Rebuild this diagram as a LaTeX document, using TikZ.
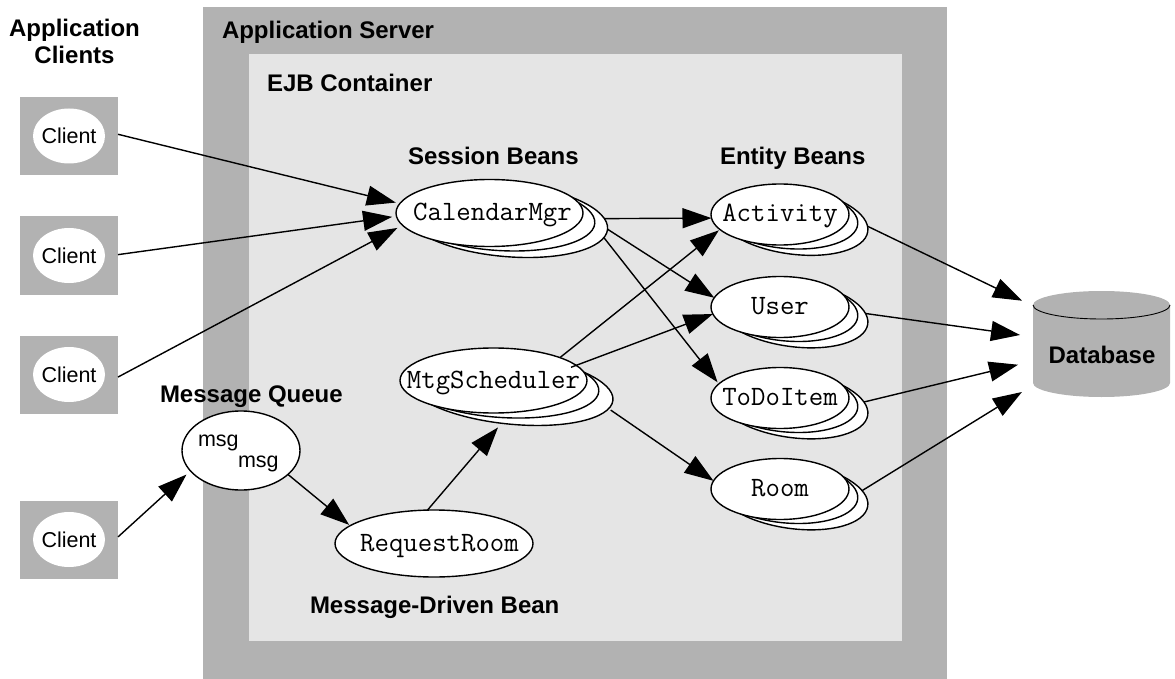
\documentclass[tikz,border=0pt]{standalone}
\usepackage{fontspec}
\setmainfont{Liberation Sans}
\usepackage{xcolor}
\usepackage{tikz}
\usetikzlibrary{shapes.geometric, arrows.meta, positioning, calc}

\definecolor{servergray}{HTML}{B2B2B2}
\definecolor{containergray}{HTML}{E5E5E5}
\newcommand{\ctrtxt}[1]{\makebox[0pt]{#1}}

\tikzset{
    title/.style={font=\fontsize{24}{27}\selectfont\bfseries, inner sep=0pt, outer sep=0pt},
    plain/.style={font=\fontsize{21.5}{24}\selectfont, inner sep=0pt, outer sep=0pt},
    bean/.style={ellipse, draw=black, fill=white, line width=1.4pt, inner sep=0pt, outer sep=0pt,
        font=\fontsize{28}{30}\selectfont\ttfamily, text height=15pt, text depth=0pt},
    beanbig/.style={bean, minimum width=187pt, minimum height=67pt},
    beanbigB/.style={bean, minimum width=192pt, minimum height=67pt, rotate=-3.7},
    beanbigC/.style={bean, minimum width=204pt, minimum height=73pt, rotate=-5.2},
    beansmall/.style={bean, minimum width=138pt, minimum height=61pt},
    beansmallB/.style={bean, minimum width=142pt, minimum height=61pt, rotate=-5},
    beansmallC/.style={bean, minimum width=152pt, minimum height=66pt, rotate=-8},
    clientbox/.style={rectangle, fill=servergray, minimum width=98pt, minimum height=78pt, inner sep=0pt, outer sep=0pt},
    clientoval/.style={ellipse, fill=white, minimum width=72pt, minimum height=55pt, inner sep=0pt, outer sep=0pt,
        font=\fontsize{21.5}{24}\selectfont, text height=15pt, text depth=0pt},
    flow/.style={-{Triangle[length=29pt,width=20pt]}, line width=1.4pt}
}

\begin{document}
\begin{tikzpicture}[x=1pt, y=-1pt]
    \useasboundingbox (0,0) rectangle (1175,679);

    % Server and container areas
    \fill[servergray] (203,7) rectangle (947,679);
    \fill[containergray] (249,54) rectangle (902,641);

    % Titles
    \node[title, align=center] (clientstitle) at (74.5,41.4) {Application\\Clients};
    \node[title, anchor=base west] (servertitle) at (222,39) {Application Server};
    \node[title, anchor=base west] (containertitle) at (267,92) {EJB Container};
    \node[title, anchor=base west] (sessiontitle) at (408,164.5) {Session Beans};
    \node[title, anchor=base west] (entitytitle) at (720,164.5) {Entity Beans};
    \node[title, anchor=base west] (queuetitle) at (160,402) {Message Queue};
    \node[title, anchor=base west] (driventitle) at (310,613) {Message-Driven Bean};

    % Clients
    \node[clientbox] (cbox1) at (69,136) {};
    \node[clientoval] (client1) at (cbox1) {\ctrtxt{Client}};
    \node[clientbox] (cbox2) at (69,255.5) {};
    \node[clientoval] (client2) at (cbox2) {\ctrtxt{Client}};
    \node[clientbox] (cbox3) at (69,374.5) {};
    \node[clientoval] (client3) at (cbox3) {\ctrtxt{Client}};
    \node[clientbox] (cbox4) at (69,539.5) {};
    \node[clientoval] (client4) at (cbox4) {\ctrtxt{Client}};

    % Message queue
    \node[bean, minimum width=118pt, minimum height=79pt] (queue) at (241,450.5) {};
    \node[plain, anchor=base west] (msga) at (198,446) {msg};
    \node[plain, anchor=base west] (msgb) at (238,467) {msg};

    % Session beans
    \node[beanbigC] (calmgrC) at (506,220) {};
    \node[beanbigB] (calmgrB) at (499,217) {};
    \node[beanbig] (calmgr) at (489.5,213) {\ctrtxt{\hspace{6pt}CalendarMgr}};

    % Message-driven beans
    \node[beanbigC, minimum width=207pt, minimum height=69pt, rotate=-0.8] (mtgC) at (510,389.5) {};
    \node[beanbigB, minimum width=194pt, minimum height=65pt] (mtgB) at (502,385) {};
    \node[beanbig, minimum height=65pt] (mtg) at (493.5,380.5) {\ctrtxt{MtgScheduler}};
    \node[bean, minimum width=198pt, minimum height=67pt] (request) at (434,543.5) {\ctrtxt{\hspace{11pt}RequestRoom}};

    % Entity beans
    \node[beansmallC] (activityC) at (792.5,221) {};
    \node[beansmallB] (activityB) at (787,218) {};
    \node[beansmall] (activity) at (780,214.5) {\ctrtxt{Activity}};
    \node[beansmallC] (userC) at (792.5,313.5) {};
    \node[beansmallB] (userB) at (787,310.5) {};
    \node[beansmall] (user) at (780,307) {\ctrtxt{User}};
    \node[beansmallC] (todoC) at (792.5,404.5) {};
    \node[beansmallB] (todoB) at (787,401.5) {};
    \node[beansmall] (todo) at (780,398) {\ctrtxt{ToDoItem}};
    \node[beansmallC] (roomC) at (792.5,495.5) {};
    \node[beansmallB] (roomB) at (787,492.5) {};
    \node[beansmall] (room) at (780,489) {\ctrtxt{Room}};

    % Database
    \fill[servergray] (1033,305) arc[start angle=180, end angle=0, x radius=68.5pt, y radius=14pt]
        -- (1170,383) arc[start angle=0, end angle=-180, x radius=68.5pt, y radius=14pt] -- cycle;
    \draw[line width=0.9pt] (1033,305) arc[start angle=180, end angle=360, x radius=68.5pt, y radius=14pt];
    \node[title, minimum width=137pt, minimum height=106pt] (db) at (1101.5,344) {};
    \node[title, anchor=base] (dbtext) at (1102,363) {Database};

    % Clients to beans
    \draw[flow, shorten >=4.1pt] (cbox1.2) -- (calmgr.174.3);
    \draw[flow, shorten >=4.4pt] (cbox2.1) -- (calmgr.182.7);
    \draw[flow, shorten >=5.7pt] (cbox3.-3) -- (calmgr.188);
    \draw[flow, shorten >=5.4pt] (cbox4.3) -- (queue.202.7);
    \draw[flow, shorten >=1.3pt] (queue.-27.5) -- (request.168.1);
    \draw[flow, shorten >=5.5pt] (request.101.8) -- (mtgC.-98.1);

    % Beans to beans
    \draw[flow] (calmgrC.6.6) -- (activity.183);
    \draw[flow] (calmgrC.0) -- (user.172.5);
    \draw[flow, shorten >=2pt] (calmgrC.-5.5) -- (todo.167);
    \draw[flow, shorten >=1.3pt] (mtg.19) -- (activity.194.7);
    \draw[flow] (mtgC.26) -- (user.186);
    \draw[flow, shorten <=2.5pt] (mtgC.-5) -- (room.173);

    % Beans to database
    \draw[flow, shorten >=12.2pt] (activityC.4.5) -- (db.151.2);
    \draw[flow, shorten >=13.1pt] (userC.8.5) -- (db.174.1);
    \draw[flow, shorten >=15.4pt] (todoC.10) -- (db.194.2);
    \draw[flow, shorten >=13pt] (roomC.12.3) -- (db.211.6);
\end{tikzpicture}
\end{document}
